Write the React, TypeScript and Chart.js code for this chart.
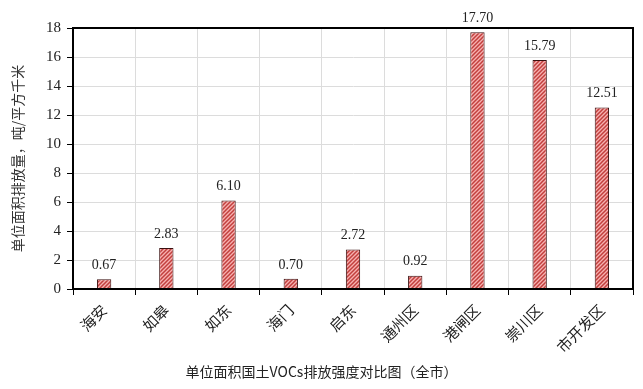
import React, { useEffect, useRef } from "react";
import { Chart, registerables } from "chart.js";

Chart.register(...registerables);

const categories = ["海安", "如皋", "如东", "海门", "启东", "通州区", "港闸区", "崇川区", "市开发区"];
const values = [0.67, 2.83, 6.1, 0.7, 2.72, 0.92, 17.7, 15.79, 12.51];
const yTitle = "单位面积排放量，吨/平方千米";
const caption = "单位面积国土VOCs排放强度对比图（全市）";

function makePattern(): CanvasPattern | string {
  const c = document.createElement("canvas");
  c.width = 4;
  c.height = 4;
  const g = c.getContext("2d");
  if (!g) return "#f4a6a6";
  g.fillStyle = "#f7b0b0";
  g.fillRect(0, 0, 4, 4);
  g.strokeStyle = "#c2403e";
  g.lineWidth = 1.5;
  g.beginPath();
  g.moveTo(-1, 5);
  g.lineTo(5, -1);
  g.moveTo(-1, 1);
  g.lineTo(1, -1);
  g.moveTo(3, 5);
  g.lineTo(5, 3);
  g.stroke();
  const p = g.createPattern(c, "repeat");
  return p || "#f4a6a6";
}

const extrasPlugin = {
  id: "extras",
  afterDatasetsDraw(chart: any) {
    const { ctx, chartArea } = chart;
    ctx.save();
    ctx.strokeStyle = "#000";
    ctx.lineWidth = 2;
    ctx.strokeRect(chartArea.left, chartArea.top, chartArea.right - chartArea.left, chartArea.bottom - chartArea.top);
    const meta = chart.getDatasetMeta(0);
    ctx.fillStyle = "#222";
    ctx.font = '14px "Liberation Serif"';
    ctx.textAlign = "center";
    ctx.textBaseline = "middle";
    meta.data.forEach((el: any, i: number) => {
      ctx.fillText(values[i].toFixed(2), el.x, el.y - 14);
    });
    ctx.font = '14px "Noto Sans CJK SC"';
    ctx.fillStyle = "#222";
    ctx.fillText(caption, chart.width / 2, 372);
    ctx.restore();
  },
};

export default function App() {
  const ref = useRef<HTMLCanvasElement | null>(null);
  useEffect(() => {
    if (!ref.current) return;
    const pattern = makePattern();
    const chart = new Chart(ref.current, {
      type: "bar",
      data: {
        labels: categories,
        datasets: [
          {
            data: values,
            backgroundColor: pattern as any,
            borderColor: "#3a1010",
            borderWidth: 1,
            categoryPercentage: 1,
            barPercentage: 0.23,
          },
        ],
      },
      options: {
        animation: false,
        responsive: false,
        layout: { padding: { top: 28, right: 10, left: 0, bottom: 0 } },
        plugins: {
          legend: { display: false },
          tooltip: { enabled: false },
        },
        scales: {
          x: {
            offset: true,
            grid: { offset: true, color: "#dcdcdc", tickColor: "#000", tickLength: 6, lineWidth: 1 },
            border: { color: "#000", width: 2 },
            ticks: {
              minRotation: 45,
              maxRotation: 45,
              padding: 6,
              color: "#222",
              font: { family: '"Noto Sans CJK SC"', size: 15 },
            },
            afterFit: (s: any) => {
              s.height = 100;
            },
          },
          y: {
            min: 0,
            max: 18,
            ticks: {
              stepSize: 2,
              padding: 6,
              color: "#222",
              font: { family: '"Liberation Serif"', size: 15 },
            },
            grid: { color: "#dcdcdc", tickColor: "#000", tickLength: 6 },
            border: { color: "#000", width: 2 },
            title: {
              display: true,
              text: yTitle,
              color: "#333",
              font: { family: '"Noto Sans CJK SC"', size: 14 },
              padding: { top: 9, bottom: 0 },
            },
            afterFit: (s: any) => {
              s.width = 73;
            },
          },
        },
      },
      plugins: [extrasPlugin],
    });
    return () => chart.destroy();
  }, []);
  return (
    <div style={{ position: "absolute", left: 0, top: 0, width: 643, height: 389, background: "#fff" }}>
      <canvas ref={ref} width={643} height={389} style={{ width: 643, height: 389, display: "block" }} />
    </div>
  );
}
